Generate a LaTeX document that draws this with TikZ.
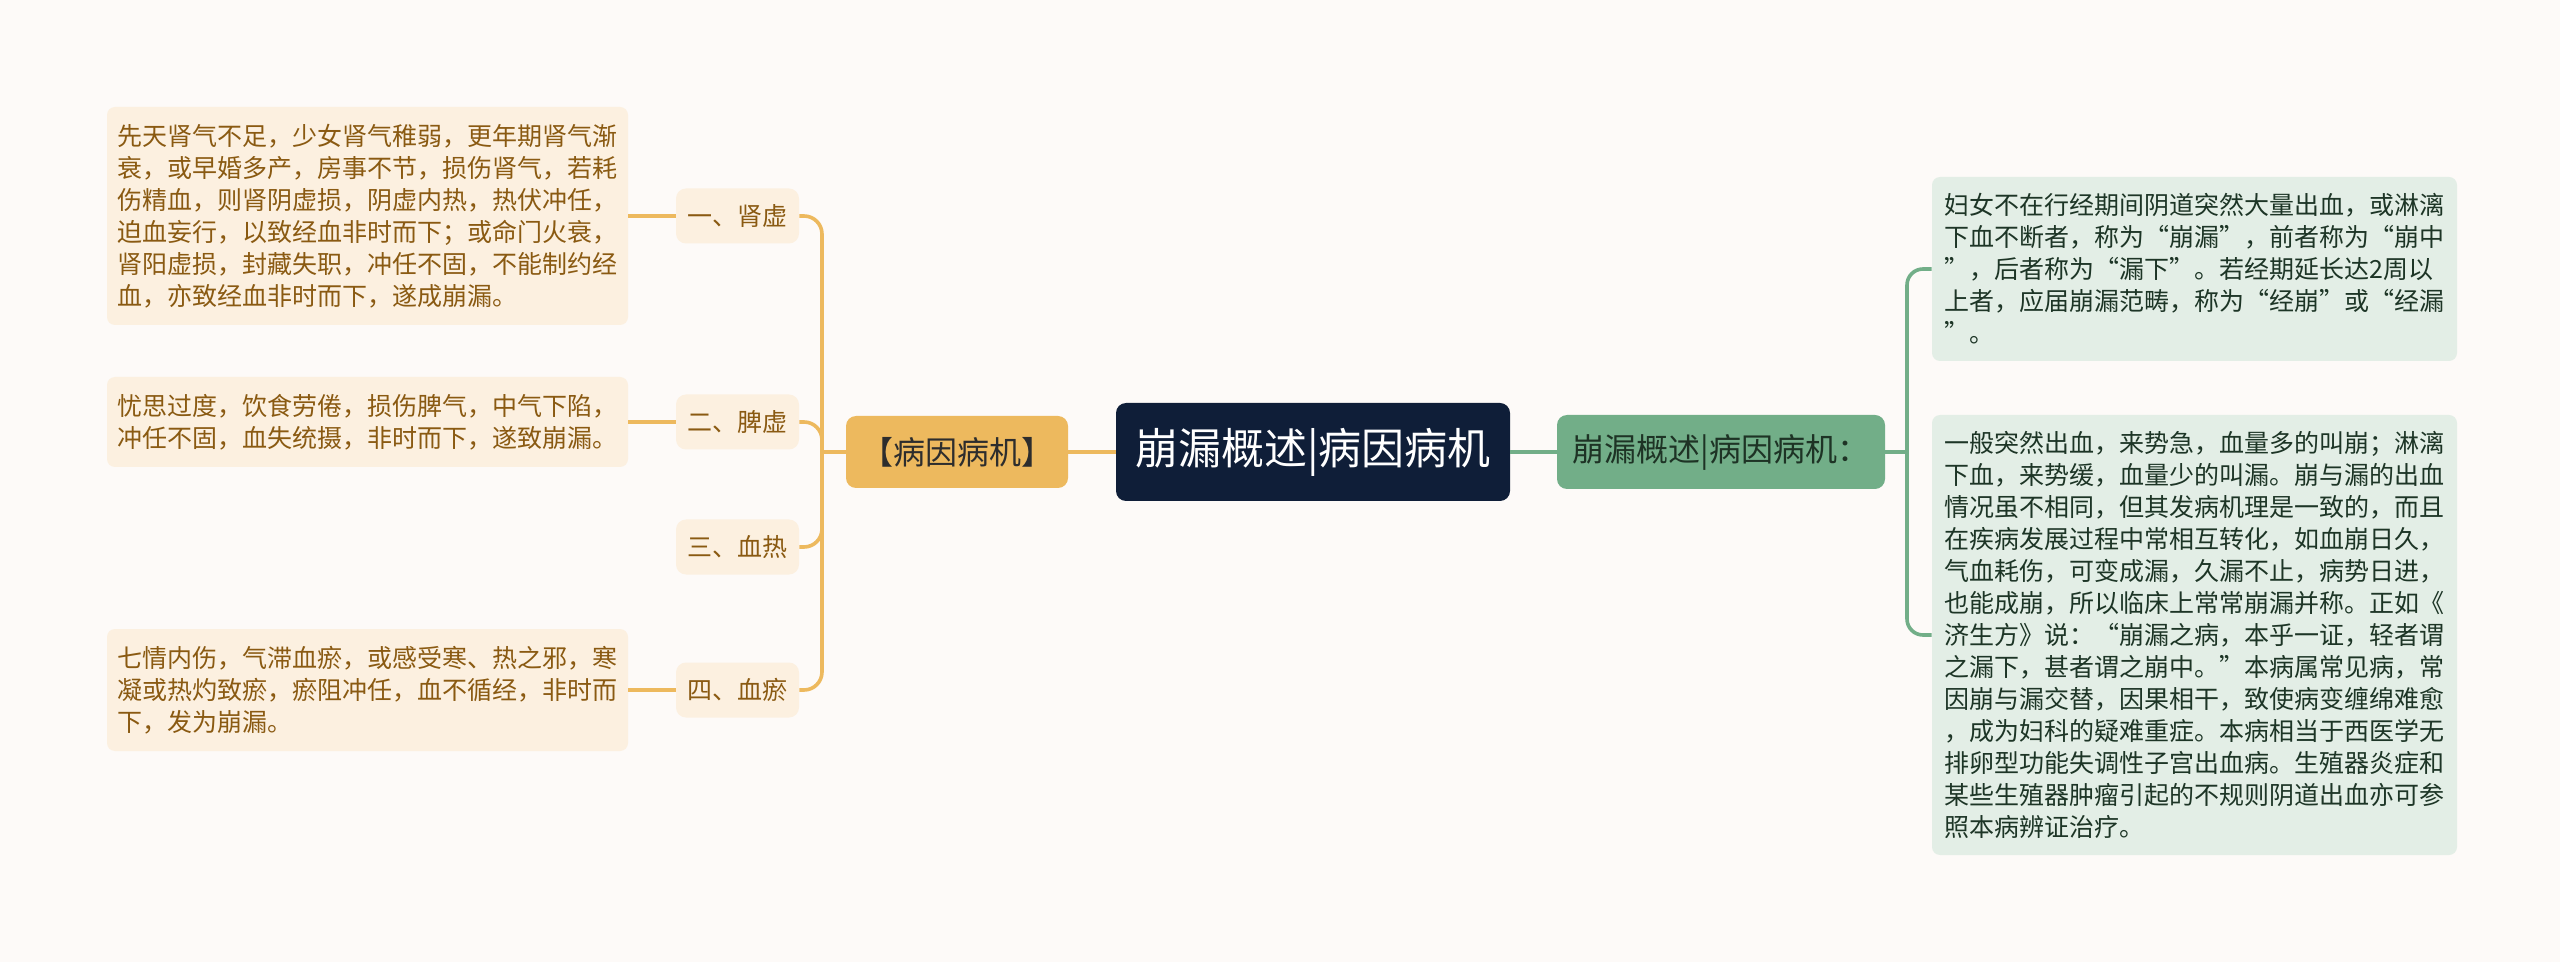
\documentclass[tikz,border=0pt]{standalone}
\usepackage{fontspec}
\setmainfont{Noto Sans CJK SC}
\definecolor{bg}{HTML}{FDFAF8}
\definecolor{lfill}{HTML}{FCF0E0}
\definecolor{ltext}{HTML}{8A5A12}
\definecolor{oline}{HTML}{EDB95E}
\definecolor{otext}{HTML}{2D2D2D}
\definecolor{navy}{HTML}{0F1E38}
\definecolor{gfill}{HTML}{72AE88}
\definecolor{gtext}{HTML}{1E3325}
\definecolor{rfill}{HTML}{E3EEE6}
\definecolor{rtext}{HTML}{1D3526}
\begin{document}
\begin{tikzpicture}[x=0.5pt,y=-0.5pt,
  body/.style={font=\fontsize{12.5pt}{16pt}\selectfont, align=left, inner sep=0pt, rounded corners=4pt},
  leftbox/.style={body, fill=lfill, text=ltext, minimum width=260.5pt},
  rightbox/.style={body, fill=rfill, text=rtext, minimum width=262.5pt},
  labelbox/.style={fill=lfill, text=ltext, rounded corners=5pt, inner sep=0pt,
    minimum width=61.5pt, minimum height=27.5pt, font=\fontsize{12.5pt}{15pt}\selectfont},
  orangebox/.style={fill=oline, text=otext, rounded corners=5pt, inner sep=0pt,
    minimum width=111pt, minimum height=36pt, font=\fontsize{16pt}{19pt}\selectfont},
  centralbox/.style={fill=navy, text=white, rounded corners=5pt, inner sep=0pt,
    minimum width=197pt, minimum height=49pt, font=\fontsize{21.5pt}{25pt}\selectfont},
  greenbox/.style={fill=gfill, text=gtext, rounded corners=5pt, inner sep=0pt,
    minimum width=164pt, minimum height=37pt, font=\fontsize{16pt}{19pt}\selectfont},
  oconn/.style={draw=oline, line width=1.8pt},
  gconn/.style={draw=gfill, line width=1.8pt}
]
\useasboundingbox (0,0) rectangle (2560,962);
\fill[bg] (0,0) rectangle (2560,962);

% left text boxes
\node[leftbox, minimum height=109pt] (L1) at (367.5,216) {先天肾气不足，少女肾气稚弱，更年期肾气渐\\衰，或早婚多产，房事不节，损伤肾气，若耗\\伤精血，则肾阴虚损，阴虚内热，热伏冲任，\\迫血妄行，以致经血非时而下；或命门火衰，\\肾阳虚损，封藏失职，冲任不固，不能制约经\\血，亦致经血非时而下，遂成崩漏。};
\node[leftbox, minimum height=45pt] (L2) at (367.5,422) {忧思过度，饮食劳倦，损伤脾气，中气下陷，\\冲任不固，血失统摄，非时而下，遂致崩漏。};
\node[leftbox, minimum height=61pt] (L3) at (367.5,690) {七情内伤，气滞血瘀，或感受寒、热之邪，寒\\凝或热灼致瘀，瘀阻冲任，血不循经，非时而\\下，发为崩漏。};

% labels
\node[labelbox] (K1) at (737.5,216) {一、肾虚};
\node[labelbox] (K2) at (737.5,422) {二、脾虚};
\node[labelbox] (K3) at (737.5,547) {三、血热};
\node[labelbox] (K4) at (737.5,690) {四、血瘀};

% main nodes
\node[orangebox] (O) at (957,452) {【病因病机】};
\node[centralbox] (C) at (1313,452) {崩漏概述|病因病机};
\node[greenbox] (G) at (1721,452) {崩漏概述|病因病机：};

% right text boxes
\node[rightbox, minimum height=92pt] (RA) at (2194.5,269) {妇女不在行经期间阴道突然大量出血，或淋漓\\下血不断者，称为“崩漏”，前者称为“崩中\\”，后者称为“漏下”。若经期延长达2周以\\上者，应届崩漏范畴，称为“经崩”或“经漏\\”。};
\node[rightbox, minimum height=220pt] (RB) at (2194.5,635) {一般突然出血，来势急，血量多的叫崩；淋漓\\下血，来势缓，血量少的叫漏。崩与漏的出血\\情况虽不相同，但其发病机理是一致的，而且\\在疾病发展过程中常相互转化，如血崩日久，\\气血耗伤，可变成漏，久漏不止，病势日进，\\也能成崩，所以临床上常常崩漏并称。正如《\\济生方》说：“崩漏之病，本乎一证，轻者谓\\之漏下，甚者谓之崩中。”本病属常见病，常\\因崩与漏交替，因果相干，致使病变缠绵难愈\\，成为妇科的疑难重症。本病相当于西医学无\\排卵型功能失调性子宫出血病。生殖器炎症和\\某些生殖器肿瘤引起的不规则阴道出血亦可参\\照本病辨证治疗。};

% hubs
\coordinate (HL) at (822,452);
\coordinate (HR) at (1907,452);

% left connectors
\draw[oconn] (O.west) -- (HL);
\draw[oconn, rounded corners=9pt] (HL) |- (K1.east);
\draw[oconn, rounded corners=9pt] (HL) |- (K2.east);
\draw[oconn, rounded corners=9pt] (HL) |- (K3.east);
\draw[oconn, rounded corners=9pt] (HL) |- (K4.east);
\draw[oconn] (K1.west) -- (L1.east);
\draw[oconn] (K2.west) -- (L2.east);
\draw[oconn] (K4.west) -- (L3.east);
\draw[oconn] (O.east) -- (C.west);

% right connectors
\draw[gconn] (C.east) -- (G.west);
\draw[gconn] (G.east) -- (HR);
\draw[gconn, rounded corners=8pt] (HR) |- (RA.west);
\draw[gconn, rounded corners=8pt] (HR) |- (RB.west);
\end{tikzpicture}
\end{document}
